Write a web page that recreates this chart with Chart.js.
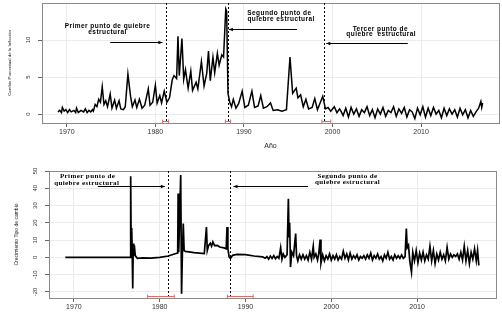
<!DOCTYPE html>
<html><head><meta charset="utf-8">
<script src="https://cdn.jsdelivr.net/npm/chart.js@4"></script>
<style>
html,body{margin:0;padding:0;background:#fff;width:502px;height:312px;overflow:hidden}
canvas{position:absolute;left:0}
#c1{top:0}
#c2{top:150px}
</style></head><body>
<canvas id="c1" width="502" height="150"></canvas>
<canvas id="c2" width="502" height="162"></canvas>
<script>
// ---------- data ----------
const yearTicks = [1970, 1980, 1990, 2000, 2010];
const inflationTicks = [0, 5, 10];
const exchangeTicks = [-20, -10, 0, 10, 20, 30, 40, 50];
const inflationBreaks = [1981.2, 1988.2, 1999.0];
const exchangeBreaks = [1981.0, 1988.2];
const inflationCI = [[1980.8, 1981.5], [1987.9, 1988.5], [1998.8, 1999.8]];
const exchangeCI = [[1978.6, 1981.7], [1987.9, 1990.9]];
const inflationTitle = 'Cambio Porcentual de la Inflación';
const exchangeTitle = 'Crecimiento Tipo de cambio';
const xTitle = 'Año';
const inflationNotes = ['Primer punto de quiebre', 'estructural', 'Segundo punto de', 'quiebre estructural', 'Tercer punto de', 'quiebre  estructural'];
const exchangeNotes = ['Primer punto de', 'quiebre estructural', 'Segundo punto de', 'quiebre estructural'];

// [year, value]
const inflation = [
[1969.0,0.3],[1969.2,0.5],[1969.4,0.2],[1969.5,0.9],[1969.7,0.4],[1969.9,0.6],
[1970.1,0.2],[1970.3,0.6],[1970.5,0.3],[1970.8,0.5],[1971.0,0.2],[1971.1,0.8],[1971.3,0.2],[1971.6,0.5],[1971.9,0.3],
[1972.1,0.7],[1972.3,0.2],[1972.5,0.5],[1972.7,0.3],[1972.9,0.6],[1973.0,0.4],[1973.2,1.3],[1973.4,1.0],[1973.6,2.0],[1973.8,1.6],
[1974.0,3.7],[1974.2,1.3],[1974.4,1.8],[1974.6,1.0],[1974.9,2.7],[1975.1,0.8],[1975.4,1.9],[1975.6,0.8],[1975.9,1.8],
[1976.1,0.7],[1976.4,0.6],[1976.6,1.0],[1976.9,5.4],[1977.2,2.4],[1977.4,1.0],[1977.7,1.9],[1977.9,0.9],
[1978.2,2.0],[1978.5,0.8],[1978.8,1.2],[1979.2,3.4],[1979.4,1.2],[1979.7,1.6],
[1980.0,3.9],[1980.2,1.5],[1980.5,2.5],[1980.7,1.5],[1981.0,3.1],[1981.3,1.6],[1981.6,2.2],[1981.9,4.6],
[1982.1,5.2],[1982.4,4.8],[1982.55,10.5],[1982.7,5.2],[1983.0,10.2],[1983.2,4.7],[1983.4,6.0],[1983.7,3.5],
[1984.0,5.8],[1984.2,3.2],[1984.6,4.3],[1984.8,3.4],[1985.2,7.1],[1985.5,3.8],[1985.8,5.5],
[1986.0,8.5],[1986.2,4.5],[1986.5,7.7],[1986.7,5.6],[1987.0,8.2],[1987.2,6.6],[1987.5,8.0],[1987.7,7.7],
[1987.95,14.2],[1988.05,13.9],[1988.2,2.8],[1988.4,1.6],[1988.6,1.0],[1988.8,2.0],
[1989.1,0.8],[1989.4,1.4],[1989.8,3.1],[1990.1,0.9],[1990.5,1.2],[1990.9,3.1],[1991.2,0.9],[1991.6,1.1],[1991.9,2.5],
[1992.2,0.8],[1992.6,1.0],[1993.0,1.5],[1993.3,0.5],[1993.8,0.6],[1994.3,0.4],[1994.8,0.6],
[1995.2,7.7],[1995.5,2.8],[1995.9,3.5],[1996.1,2.2],[1996.4,2.6],[1996.7,1.0],[1997.0,2.0],[1997.3,0.7],[1997.7,0.9],
[1998.0,2.1],[1998.3,0.6],[1998.9,2.4],[1999.2,0.7],[1999.5,0.9],[1999.8,0.4],
[2000.2,1.0],[2000.5,0.2],[2000.8,0.7],[2001.0,0.3],[2001.2,-0.2],[2001.5,0.8],[2001.8,-0.4],
[2002.1,0.9],[2002.4,0.0],[2002.7,0.7],[2003.0,-0.3],[2003.3,0.6],[2003.6,0.2],[2003.9,1.0],
[2004.2,-0.2],[2004.5,0.6],[2004.8,-0.5],[2005.1,0.7],[2005.4,0.0],[2005.7,0.9],[2006.0,-0.3],
[2006.3,0.5],[2006.6,0.2],[2006.9,1.0],[2007.2,-0.3],[2007.5,0.7],[2007.8,0.1],[2008.1,0.9],
[2008.4,-0.4],[2008.7,0.6],[2009.0,0.3],[2009.3,-0.6],[2009.6,0.8],[2009.9,-0.1],[2010.2,1.0],
[2010.5,-0.4],[2010.8,0.8],[2011.1,-0.2],[2011.4,0.9],[2011.7,0.0],[2012.0,0.5],[2012.3,-0.5],
[2012.6,0.8],[2012.9,-0.2],[2013.2,0.7],[2013.5,0.0],[2013.8,0.6],[2014.1,-0.4],[2014.4,0.8],
[2014.7,-0.1],[2015.0,0.6],[2015.3,-0.5],[2015.6,0.5],[2015.9,-0.3],[2016.2,0.3],[2016.5,0.8],
[2016.75,1.7],[2016.85,0.9],[2016.95,1.5]
];

const exchange = [
[1969.0,0],[1976.55,0],[1976.62,47],[1976.68,3],[1976.74,17],[1976.8,2],[1976.86,-18],[1976.92,8],[1976.98,1],
[1977.05,7],[1977.15,1],[1977.4,-0.5],[1978.0,-0.3],[1979.0,-0.4],[1980.0,0],[1981.0,0.8],[1981.8,2.1],
[1982.1,2.5],[1982.15,37],[1982.22,3],[1982.45,47.7],[1982.55,-21],[1982.65,3],[1982.75,19.6],[1982.85,4],
[1983.0,3.5],[1984.0,2.8],[1985.2,2.2],[1985.45,17.6],[1985.55,4],[1985.7,6.8],[1985.9,8.2],[1986.05,6.5],
[1986.2,9],[1986.4,6.8],[1986.7,7],[1987.0,6],[1987.5,5.5],[1987.75,5],[1987.85,17.6],[1987.95,5],
[1988.1,0.2],[1988.25,-0.6],[1988.5,1.2],[1989.0,1.7],[1990.0,1.6],[1991.0,0.8],[1992.0,0.3],
[1992.3,-0.5],[1992.5,0.5],[1992.7,-1],[1992.9,0.8],[1993.1,-0.6],[1993.3,1],[1993.5,-0.8],[1993.7,0.5],
[1993.9,-0.5],[1994.1,5.6],[1994.25,-1],[1994.4,2],[1994.6,0],[1994.85,1.5],[1995.0,34],[1995.08,12],
[1995.15,20],[1995.25,-5.6],[1995.4,3],[1995.6,1],[1995.85,13.8],[1995.95,1],
[1996.1,-2],[1996.3,1.5],[1996.5,-1],[1996.7,1.5],[1996.9,-1],[1997.1,1],[1997.3,-1.5],[1997.5,3],
[1997.7,-1],[1997.9,6.4],[1998.0,0],[1998.2,2],[1998.4,-1.5],[1998.55,2.5],[1998.7,10.3],[1998.8,-3.3],
[1999.0,1.5],[1999.2,-2],[1999.4,1],[1999.6,-1],[1999.8,2],[2000.0,-1.5],[2000.2,1],[2000.4,-1],
[2000.6,1.5],[2000.8,-1.5],[2001.0,0.5],[2001.2,-1],[2001.4,3.5],[2001.6,-0.5],[2001.8,2],[2002.0,-1.5],
[2002.2,2.5],[2002.4,-1],[2002.6,1],[2002.8,-0.5],[2003.0,1.5],[2003.2,-1.5],[2003.4,0.5],[2003.6,-0.5],
[2003.8,1],[2004.0,-1],[2004.2,1.5],[2004.4,-0.5],[2004.6,2.5],[2004.8,-1.5],[2005.0,1],[2005.2,-0.5],
[2005.4,2],[2005.6,-1],[2005.8,0.5],[2006.0,-2],[2006.2,1.5],[2006.4,-0.5],[2006.6,3],[2006.8,-1],
[2007.0,0.5],[2007.2,-1.5],[2007.4,1.5],[2007.6,-0.5],[2007.8,1],[2008.0,-0.5],[2008.2,1.5],[2008.4,-0.5],
[2008.6,0.5],[2008.75,16.7],[2008.85,5.6],[2009.0,7],[2009.15,-2],[2009.35,-8.5],[2009.5,3],[2009.7,-2],
[2009.9,4],[2010.1,-3],[2010.3,2.5],[2010.5,-1.5],[2010.7,3],[2010.9,-2],[2011.1,1.5],[2011.3,-1],
[2011.5,6.4],[2011.7,-2],[2011.9,4],[2012.1,-3.5],[2012.3,2],[2012.5,-1.5],[2012.7,3],[2012.9,-1],
[2013.1,1.5],[2013.3,-2],[2013.5,5.8],[2013.7,-1],[2013.9,2],[2014.1,0],[2014.3,1.5],[2014.5,0.5],
[2014.7,2],[2014.9,-1],[2015.1,3],[2015.3,-1.5],[2015.5,6.4],[2015.7,-2],[2015.9,4],[2016.1,-3.5],
[2016.3,3],[2016.5,-1],[2016.7,5],[2016.9,-2],[2017.05,4],[2017.2,-4.6]
];

// ---------- decoration plugin ----------
const decor = {
  id: 'decor',
  afterDraw(chart, args, o) {
    const {ctx, chartArea: a, scales: {x, y}} = chart;
    ctx.save();
    // plot box
    ctx.strokeStyle = '#8a8a8a'; ctx.lineWidth = 1;
    ctx.strokeRect(Math.round(a.left) + 0.5, Math.round(a.top) + 0.5, Math.round(a.right - a.left), Math.round(a.bottom - a.top));
    // rotated y tick labels
    ctx.fillStyle = '#333';
    ctx.font = o.yTickFont;
    ctx.textAlign = 'center'; ctx.textBaseline = 'middle';
    y.ticks.forEach(t => {
      const py = y.getPixelForValue(t.value);
      ctx.save(); ctx.translate(o.yTickX, py); ctx.rotate(-Math.PI / 2);
      ctx.fillText(String(t.value), 0, 0); ctx.restore();
    });
    // break lines
    ctx.strokeStyle = '#000'; ctx.lineWidth = 1; ctx.setLineDash([2, 2]);
    o.breaks.forEach(b => {
      const px = Math.round(x.getPixelForValue(b)) + 0.5;
      ctx.beginPath(); ctx.moveTo(px, a.top); ctx.lineTo(px, a.bottom); ctx.stroke();
    });
    ctx.setLineDash([]);
    // confidence intervals
    ctx.strokeStyle = '#e06a6a'; ctx.lineWidth = 1;
    const cy = Math.round(y.getPixelForValue(o.ciY)) + 0.5;
    o.ci.forEach(([l, r]) => {
      const x1 = x.getPixelForValue(l), x2 = x.getPixelForValue(r);
      ctx.beginPath();
      ctx.moveTo(x1, cy); ctx.lineTo(x2, cy);
      ctx.moveTo(x1, cy - 2); ctx.lineTo(x1, cy + 2);
      ctx.moveTo(x2, cy - 2); ctx.lineTo(x2, cy + 2);
      ctx.stroke();
    });
    // arrows
    ctx.strokeStyle = '#000'; ctx.lineWidth = 1;
    o.arrows.forEach(ar => {
      const x1 = x.getPixelForValue(ar.from), x2 = x.getPixelForValue(ar.to);
      const py = Math.round(y.getPixelForValue(ar.y)) + 0.5;
      const d = x2 > x1 ? 1 : -1;
      ctx.beginPath(); ctx.moveTo(x1, py); ctx.lineTo(x2, py); ctx.stroke();
      ctx.beginPath(); ctx.moveTo(x2, py); ctx.lineTo(x2 - d * 4, py - 1.8); ctx.lineTo(x2 - d * 4, py + 1.8); ctx.closePath();
      ctx.fillStyle = '#000'; ctx.fill();
    });
    // notes
    ctx.fillStyle = '#000'; ctx.font = o.noteFont;
    if ('letterSpacing' in ctx) ctx.letterSpacing = o.noteSpacing;
    ctx.textAlign = 'center'; ctx.textBaseline = 'middle';
    o.notes.forEach(n => {
      ctx.fillText(n.text, x.getPixelForValue(n.x), y.getPixelForValue(n.y));
    });
    ctx.restore();
  }
};

function makeChart(id, series, cfg) {
  return new Chart(document.getElementById(id), {
    type: 'line',
    data: {datasets: [{
      data: series.map(p => ({x: p[0], y: p[1]})),
      borderColor: '#000', borderWidth: cfg.lw, pointRadius: 0, tension: 0, fill: false,
      borderJoinStyle: 'miter'
    }]},
    options: {
      responsive: false, animation: false, events: [],
      layout: {padding: cfg.pad},
      plugins: {legend: {display: false}, tooltip: {enabled: false}, decor: cfg.decor},
      scales: {
        x: {
          type: 'linear', min: cfg.xmin, max: cfg.xmax,
          afterBuildTicks: s => { s.ticks = yearTicks.map(v => ({value: v})); },
          afterFit: s => { s.height = cfg.xh; },
          grid: {color: '#ebebeb', tickColor: '#666', tickLength: 4},
          border: {display: false},
          ticks: {font: {family: 'Liberation Sans', size: 7}, color: '#333', padding: 1, maxRotation: 0, autoSkip: false,
                  callback: v => String(v)},
          title: cfg.xTitle
        },
        y: {
          min: cfg.ymin, max: cfg.ymax,
          afterBuildTicks: s => { s.ticks = cfg.yticks.map(v => ({value: v})); },
          afterFit: s => { s.width = cfg.yw; },
          grid: {color: '#ebebeb', tickColor: '#666', tickLength: 4},
          border: {display: false},
          ticks: {display: false},
          title: {display: true, text: cfg.yTitle, color: '#222', font: {family: 'Liberation Sans', size: cfg.yTitleSize}, padding: {top: cfg.yTitlePad, bottom: 0}}
        }
      }
    },
    plugins: [decor]
  });
}

makeChart('c1', inflation, {
  lw: 1.5, pad: {top: 3, right: 3, left: 0, bottom: 0},
  xmin: 1967.2, xmax: 2018.8, xh: 27, ymin: -1.2, ymax: 15, yw: 42,
  yticks: inflationTicks, yTitle: inflationTitle, yTitleSize: 4.4, yTitlePad: 7,
  xTitle: {display: true, text: xTitle, color: '#222', font: {family: 'Liberation Sans', size: 7}, padding: {top: 3, bottom: 0}},
  decor: {
    yTickFont: "6px 'Liberation Sans'", yTickX: 28,
    breaks: inflationBreaks, ci: inflationCI, ciY: -0.95,
    noteFont: "bold 6.5px 'Liberation Sans'", noteSpacing: '0.45px',
    arrows: [{from: 1974.9, to: 1980.8, y: 9.7}, {from: 1996.0, to: 1988.3, y: 11.5}, {from: 2008.5, to: 1999.3, y: 9.6}],
    notes: [
      {text: inflationNotes[0], x: 1974.6, y: 11.9}, {text: inflationNotes[1], x: 1974.6, y: 11.1},
      {text: inflationNotes[2], x: 1994.0, y: 13.6}, {text: inflationNotes[3], x: 1994.2, y: 12.8},
      {text: inflationNotes[4], x: 2005.4, y: 11.5}, {text: inflationNotes[5], x: 2005.5, y: 10.8}
    ]
  }
});

makeChart('c2', exchange, {
  lw: 1.7, pad: {top: 21, right: 6, left: 0, bottom: 0},
  xmin: 1967.1, xmax: 2019.2, xh: 14, ymin: -23.5, ymax: 50, yw: 49,
  yticks: exchangeTicks, yTitle: exchangeTitle, yTitleSize: 5, yTitlePad: 14,
  xTitle: {display: false},
  decor: {
    yTickFont: "6px 'Liberation Sans'", yTickX: 35,
    breaks: exchangeBreaks, ci: exchangeCI, ciY: -22.4,
    noteFont: "bold 7px 'Liberation Serif'", noteSpacing: '0.4px',
    arrows: [{from: 1972.8, to: 1980.6, y: 41.3}, {from: 1997.3, to: 1988.6, y: 41.3}],
    notes: [
      {text: exchangeNotes[0], x: 1971.6, y: 47.1}, {text: exchangeNotes[1], x: 1971.5, y: 43.0},
      {text: exchangeNotes[2], x: 2001.9, y: 47.1}, {text: exchangeNotes[3], x: 2001.9, y: 43.3}
    ]
  }
});
</script>
</body></html>
